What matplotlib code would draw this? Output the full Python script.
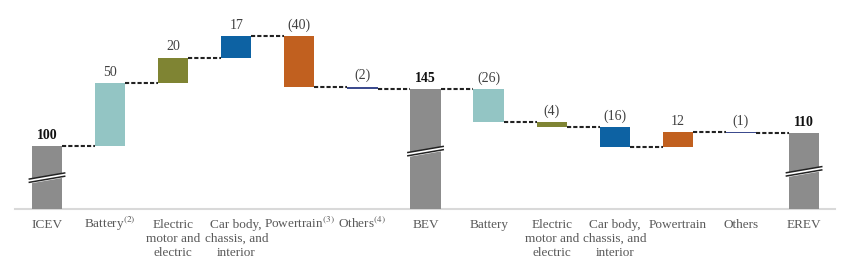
import numpy as np
import matplotlib
matplotlib.use("Agg")
import matplotlib.pyplot as plt
import matplotlib.transforms as mtransforms

plt.rcParams['font.family'] = ['Liberation Serif', 'DejaVu Serif']
plt.rcParams['mathtext.fontset'] = 'stix'

# data
labels = ['ICEV', r'Battery$^{(2)}$', 'Electric\nmotor and\nelectric',
          'Car body,\nchassis, and\ninterior', r'Powertrain$^{(3)}$', r'Others$^{(4)}$',
          'BEV', 'Battery', 'Electric\nmotor and\nelectric',
          'Car body,\nchassis, and\ninterior', 'Powertrain', 'Others', 'EREV']
values = [100, 50, 20, 17, -40, -2, 145, -26, -4, -16, 12, -1, 110]
is_total = [True, False, False, False, False, False, True,
            False, False, False, False, False, True]
value_text = ['100', '50', '20', '17', '(40)', '(2)', '145',
              '(26)', '(4)', '(16)', '12', '(1)', '110']
break_at = [75, 96, 80]

colors = ['#8c8c8c', '#93c5c4', '#7f8433', '#0d62a3', '#c1601f', '#3c4b8e',
          '#8c8c8c', '#93c5c4', '#7f8433', '#0d62a3', '#c1601f', '#3c4b8e',
          '#8c8c8c']

base = 50.2
fig = plt.figure(figsize=(8.64, 2.58), dpi=100)
ax = fig.add_axes([0, 49 / 258, 1, 209 / 258])
ax.set_xlim(-0.745, 12.95)
ax.set_ylim(base, 215.5)
ax.axis('off')

w = 0.48
running = 0
for i, v in enumerate(values):
    if is_total[i]:
        b, t = base, v
        running = v
    else:
        b, t = running, running + v
        running = running + v
    lo, hi = min(b, t), max(b, t)
    ax.bar(i, hi - lo, bottom=lo, width=w, color=colors[i], zorder=2)
    ax.annotate(value_text[i], (i, hi), xytext=(0, 3), textcoords='offset points',
                ha='center', va='bottom', fontsize=10,
                fontweight='bold' if is_total[i] else 'normal',
                color='#111111' if is_total[i] else '#404040')

# connectors
level = 0
for i, v in enumerate(values[:-1]):
    level = v if is_total[i] else level + v
    ax.plot([i + w / 2, i + 1 - w / 2], [level, level], color='#222222',
            lw=1.5, ls=(0, (2, 1)), zorder=3)

# break marks on total bars
tot_idx = [i for i in range(len(values)) if is_total[i]]
for i, y in zip(tot_idx, break_at):
    xs = np.array([i - 0.28, i + 0.28])
    ys = np.array([y - 2.4, y + 2.4])
    ax.fill_between(xs, ys - 1.3, ys + 1.3, color='white', zorder=4)
    ax.plot(xs, ys - 1.3, color='#222222', lw=1.1, zorder=5)
    ax.plot(xs, ys + 1.3, color='#222222', lw=1.1, zorder=5)

# baseline
ax.plot([-0.5, 12.49], [base, base], color='#d9d9d9', lw=1.5, zorder=1,
        clip_on=False)

# category labels, one line at a time on a common baseline
trans = mtransforms.blended_transform_factory(ax.transData, fig.transFigure)
for i, lab in enumerate(labels):
    for k, line in enumerate(lab.split('\n')):
        fig.text(i, 1 - (228 + 14 * k) / 258, line, transform=trans,
                 ha='center', va='baseline', fontsize=9.5, color='#595959')

fig.savefig('out.png', dpi=100)
